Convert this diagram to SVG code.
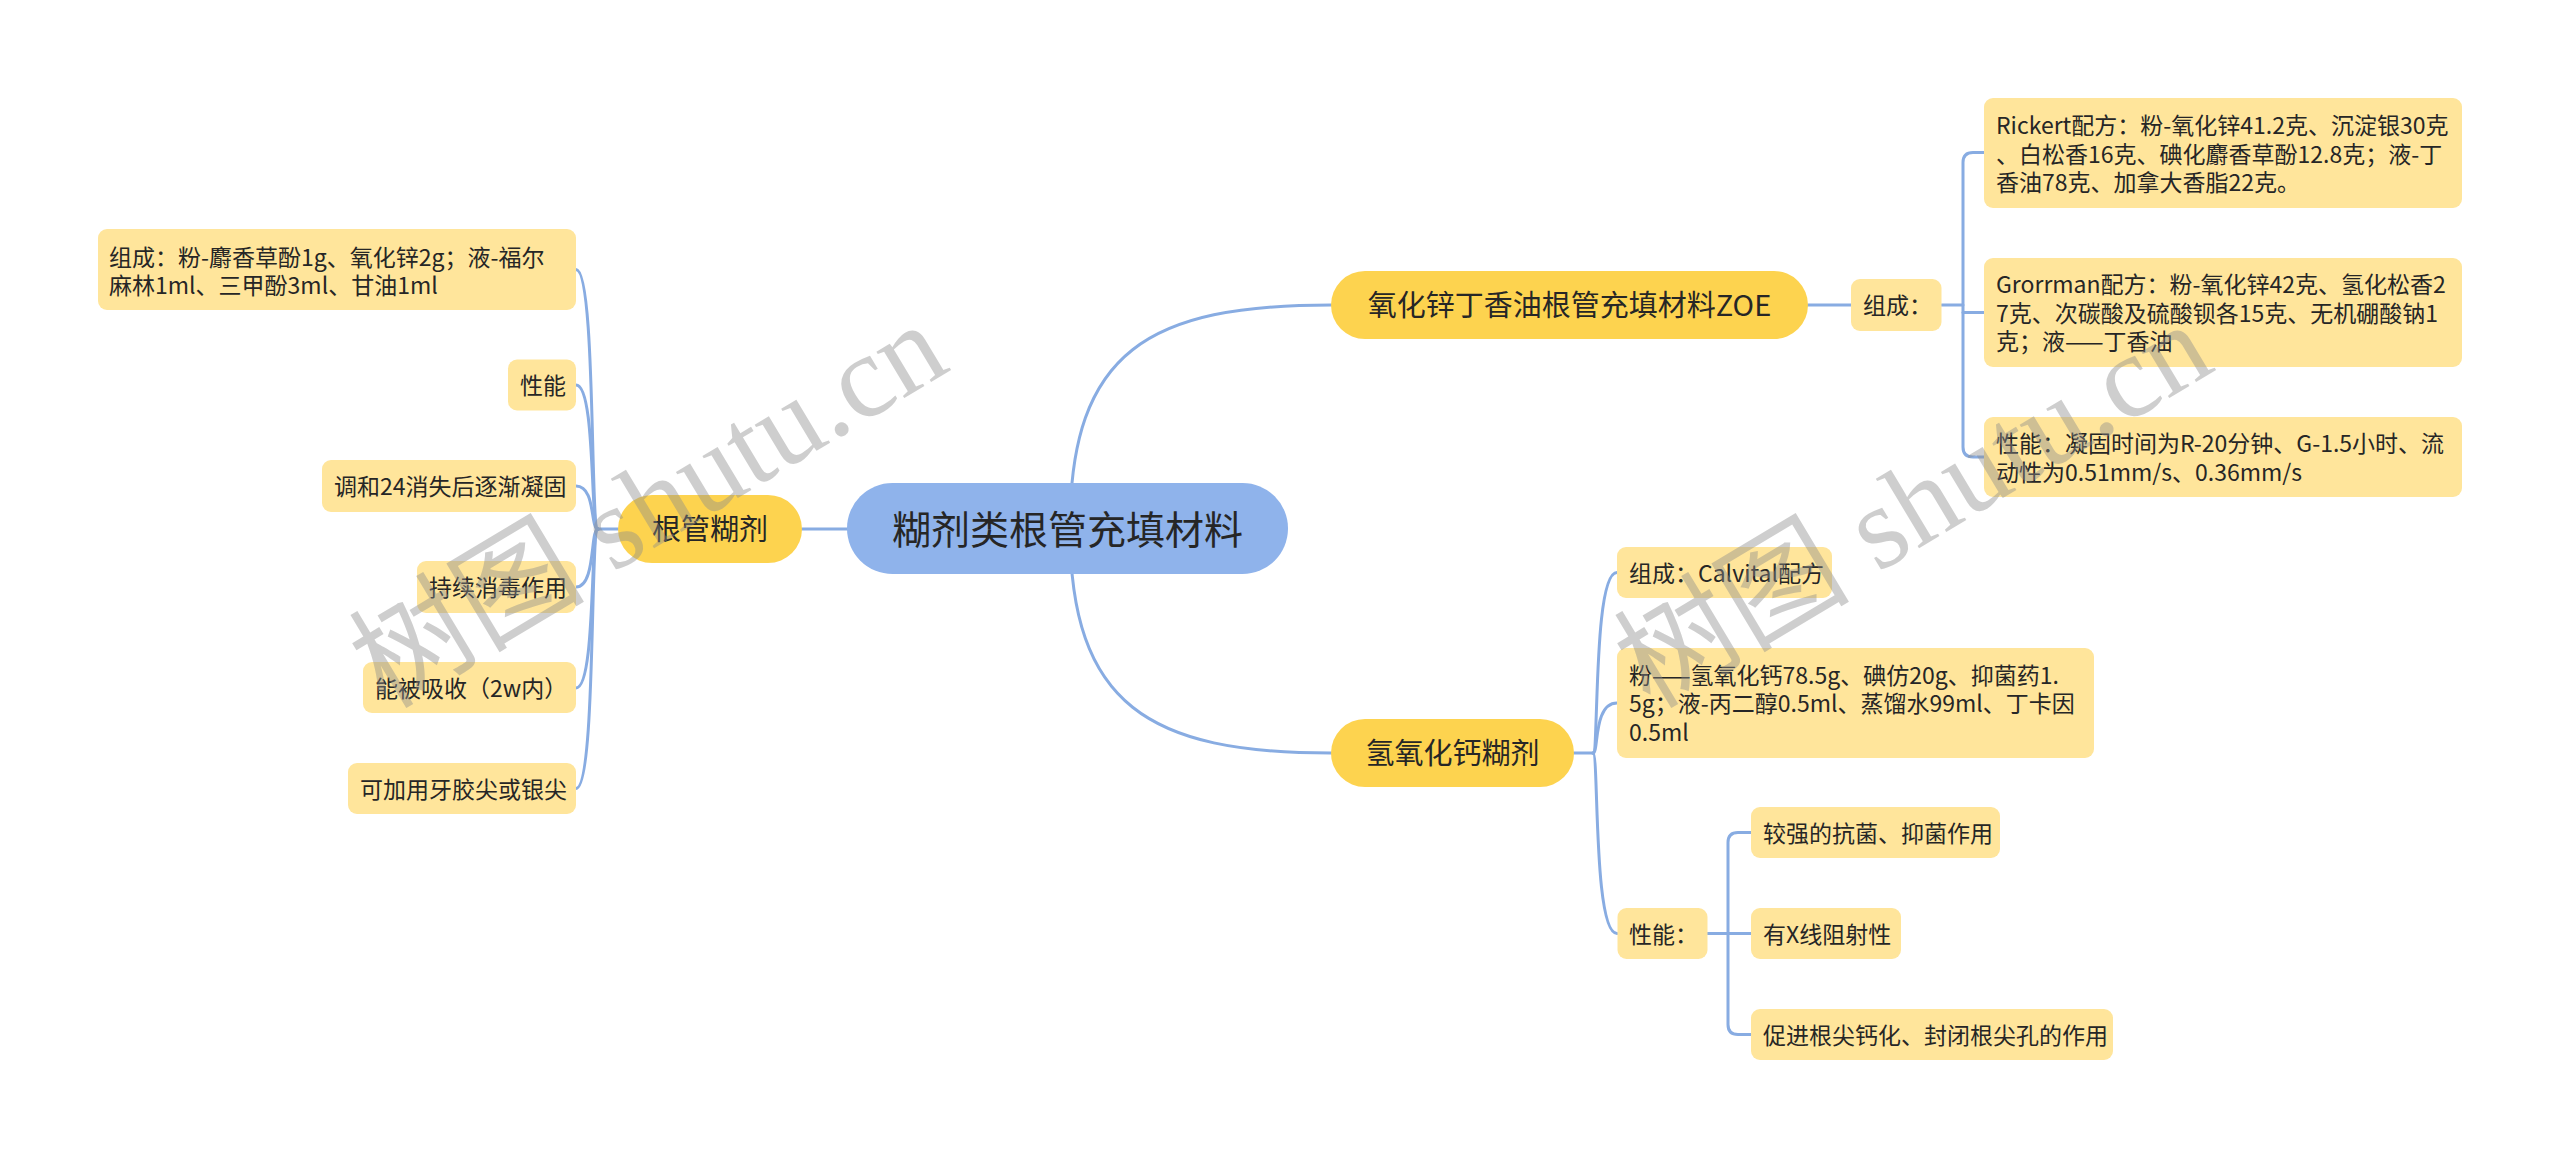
<svg xmlns="http://www.w3.org/2000/svg" width="2560" height="1158" viewBox="0 0 2560 1158">
<style>
.c{fill:none;stroke:#88ACE2;stroke-width:3;stroke-linecap:round}
.root{fill:#8FB3EB}
.br{fill:#FDD34F}
.lf{fill:#FFE59B}
text{font-family:"Noto Sans CJK SC","Microsoft YaHei",sans-serif;fill:#262626}
.t23{font-size:23px}
.t29{font-size:29px}
.t39{font-size:39px}
.wm{font-family:"Liberation Serif","Noto Sans CJK SC",serif;font-size:118px;fill:#8c8c8c;opacity:0.42}
</style>
<rect width="2560" height="1158" fill="#ffffff"/>
<g id="connectors">
<path class="c" d="M1070,528 C1070,350 1150,305 1331,305"/>
<path class="c" d="M1070,528 C1070,706 1150,753 1331,753"/>
<path class="c" d="M802,529 H847"/>
<path class="c" d="M618,529 H598"/>
<path class="c" d="M598,529 C590,529 596,269.5 576,269.5"/>
<path class="c" d="M598,529 C590,529 596,385 576,385"/>
<path class="c" d="M598,529 C590,529 596,486 576,486"/>
<path class="c" d="M598,529 C590,529 596,587 576,587"/>
<path class="c" d="M598,529 C590,529 596,688 576,688"/>
<path class="c" d="M598,529 C590,529 596,788.5 576,788.5"/>
<path class="c" d="M1808,305 H1851"/>
<path class="c" d="M1941.5,305 H1963"/>
<path class="c" d="M1984,152.5 H1973 Q1963,152.5 1963,162.5 V447 Q1963,457 1973,457 H1984"/>
<path class="c" d="M1963,312.5 H1984"/>
<path class="c" d="M1574,753 H1593"/>
<path class="c" d="M1593,753 C1599,753 1593,572.5 1617,572.5"/>
<path class="c" d="M1593,753 C1599,753 1593,703 1617,703"/>
<path class="c" d="M1593,753 C1599,753 1593,933.5 1617,933.5"/>
<path class="c" d="M1707.5,933.5 H1728"/>
<path class="c" d="M1751,832.5 H1738 Q1728,832.5 1728,842.5 V1024.5 Q1728,1034.5 1738,1034.5 H1751"/>
<path class="c" d="M1728,933.5 H1751"/>
</g>
<g id="root">
<rect class="root" x="847" y="483" width="441" height="91" rx="45.5"/>
<text class="t39" x="1067.5" y="543.5" text-anchor="middle">糊剂类根管充填材料</text>
</g>
<g id="n-genguan">
<rect class="br" x="618" y="495" width="184" height="68" rx="34"/>
<text class="t29" x="710" y="540" text-anchor="middle">根管糊剂</text>
</g>
<g id="n-zoe">
<rect class="br" x="1331" y="271" width="477" height="68" rx="34"/>
<text class="t29" x="1569.5" y="316" text-anchor="middle">氧化锌丁香油根管充填材料ZOE</text>
</g>
<g id="n-qyhg">
<rect class="br" x="1331" y="719" width="243" height="68" rx="34"/>
<text class="t29" x="1452.5" y="764" text-anchor="middle">氢氧化钙糊剂</text>
</g>
<g id="l-zucheng">
<rect class="lf" x="98" y="229" width="478" height="81" rx="9"/>
<text class="t23" x="109" y="266">组成：粉-麝香草酚1g、氧化锌2g；液-福尔</text>
<text class="t23" x="109" y="294">麻林1ml、三甲酚3ml、甘油1ml</text>
</g>
<g id="l-xingneng">
<rect class="lf" x="508" y="359.5" width="68" height="51" rx="9"/>
<text class="t23" x="520" y="394">性能</text>
</g>
<g id="l-tiaohe">
<rect class="lf" x="322" y="460" width="254" height="52" rx="9"/>
<text class="t23" x="334" y="495">调和24消失后逐渐凝固</text>
</g>
<g id="l-chixu">
<rect class="lf" x="417" y="561" width="159" height="52" rx="9"/>
<text class="t23" x="429" y="596">持续消毒作用</text>
</g>
<g id="l-xishou">
<rect class="lf" x="363" y="662" width="213" height="51" rx="9"/>
<text class="t23" x="375" y="697">能被吸收（2w内）</text>
</g>
<g id="l-yajiao">
<rect class="lf" x="348" y="763" width="228" height="51" rx="9"/>
<text class="t23" x="360" y="797.5">可加用牙胶尖或银尖</text>
</g>
<g id="z-zucheng">
<rect class="lf" x="1851" y="279" width="90.5" height="52" rx="9"/>
<text class="t23" x="1863" y="314">组成：</text>
</g>
<g id="z-rickert">
<rect class="lf" x="1984" y="98" width="478" height="110" rx="9"/>
<text class="t23" x="1996" y="134">Rickert配方：粉-氧化锌41.2克、沉淀银30克</text>
<text class="t23" x="1996" y="162.5">、白松香16克、碘化麝香草酚12.8克；液-丁</text>
<text class="t23" x="1996" y="191">香油78克、加拿大香脂22克。</text>
</g>
<g id="z-grorrman">
<rect class="lf" x="1984" y="258" width="478" height="109" rx="9"/>
<text class="t23" x="1996" y="293">Grorrman配方：粉-氧化锌42克、氢化松香2</text>
<text class="t23" x="1996" y="321.5">7克、次碳酸及硫酸钡各15克、无机硼酸钠1</text>
<text class="t23" x="1996" y="350">克；液——丁香油</text>
</g>
<g id="z-xingneng">
<rect class="lf" x="1984" y="417" width="478" height="80" rx="9"/>
<text class="t23" x="1996" y="452">性能：凝固时间为R-20分钟、G-1.5小时、流</text>
<text class="t23" x="1996" y="480.5">动性为0.51mm/s、0.36mm/s</text>
</g>
<g id="q-zucheng">
<rect class="lf" x="1617" y="547" width="215" height="51" rx="9"/>
<text class="t23" x="1629" y="581.5">组成：Calvital配方</text>
</g>
<g id="q-fen">
<rect class="lf" x="1617" y="648" width="477" height="110" rx="9"/>
<text class="t23" x="1629" y="683.5">粉——氢氧化钙78.5g、碘仿20g、抑菌药1.</text>
<text class="t23" x="1629" y="712">5g；液-丙二醇0.5ml、蒸馏水99ml、丁卡因</text>
<text class="t23" x="1629" y="740.5">0.5ml</text>
</g>
<g id="q-xingneng">
<rect class="lf" x="1617.5" y="908" width="90" height="51" rx="9"/>
<text class="t23" x="1629" y="942.5">性能：</text>
</g>
<g id="q-kangjun">
<rect class="lf" x="1751" y="807" width="249" height="51" rx="9"/>
<text class="t23" x="1763" y="841.5">较强的抗菌、抑菌作用</text>
</g>
<g id="q-xxian">
<rect class="lf" x="1751" y="908" width="150" height="51" rx="9"/>
<text class="t23" x="1763" y="942.5">有X线阻射性</text>
</g>
<g id="q-cujin">
<rect class="lf" x="1751" y="1009" width="362" height="51" rx="9"/>
<text class="t23" x="1763" y="1043.5">促进根尖钙化、封闭根尖孔的作用</text>
</g>
<g id="watermark">
<text class="wm" transform="translate(385,710) rotate(-31)">树图 shutu.cn</text>
<text class="wm" transform="translate(1650,710) rotate(-31)">树图 shutu.cn</text>
</g>
</svg>
